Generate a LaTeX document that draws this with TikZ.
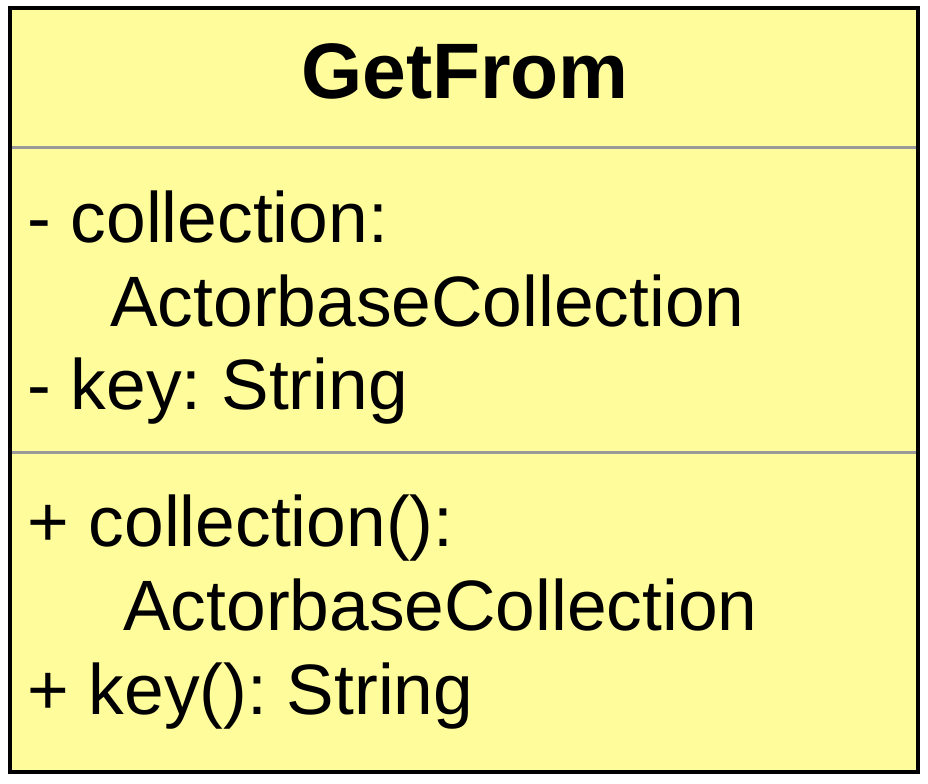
\documentclass[tikz,border=0pt]{standalone}
\usepackage{fontspec}
\setmainfont{Liberation Sans}
\usepackage{tikz}
\definecolor{classfill}{HTML}{FFFC9C}
\definecolor{sepgray}{HTML}{9A9A9A}
\frenchspacing
\tikzset{
	member/.style={anchor=base west, inner sep=0pt, font=\fontsize{53.5}{60}\selectfont},
	classname/.style={anchor=base, inner sep=0pt, font=\fontsize{59}{66}\selectfont\bfseries}
}

\begin{document}
\begin{tikzpicture}[x=0.75pt, y=-0.75pt]
		%%%%% START %%%%%
		\useasboundingbox (0, 0) rectangle (928, 784);
		
		\fill[classfill] (10, 8.5) rectangle (918, 771.5);
		
		\draw[line width=2.25pt, color=sepgray] (12, 148) -- (916, 148);
		\draw[line width=2.25pt, color=sepgray] (12, 452) -- (916, 452);
		
		\draw[line width=3pt] (10, 8.5) rectangle (918, 771.5);
		
		\node[classname] (name) at (465, 99) {GetFrom};
		
		\node[member] (attrA) at (27, 243) {- collection:};
		\node[member] (attrAtype) at (110, 326) {ActorbaseCollection};
		\node[member] (attrB) at (27, 409) {- key: String};
		
		\node[member] (opA) at (27, 546) {+ collection():};
		\node[member] (opAtype) at (123, 630) {ActorbaseCollection};
		\node[member] (opB) at (27, 714) {+ key(): String};
		
		%%%%% END %%%%%
\end{tikzpicture}
\end{document}
